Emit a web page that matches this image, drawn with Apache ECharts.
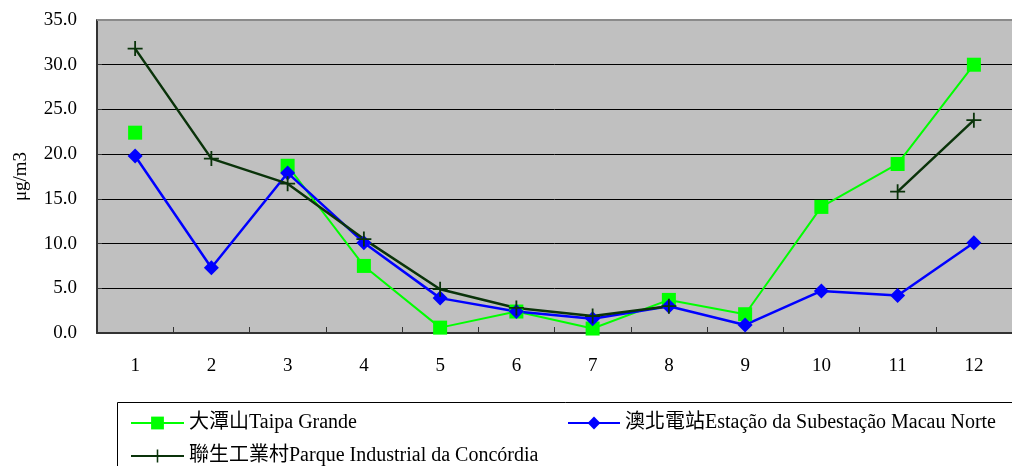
<!DOCTYPE html>
<html><head><meta charset="utf-8">
<script src="https://cdn.jsdelivr.net/npm/echarts@6/dist/echarts.min.js"></script>
<style>html,body{margin:0;padding:0;background:#fff}#c{width:1012px;height:466px}</style>
</head><body><div id="c"></div>
<script>
const categories = ['1','2','3','4','5','6','7','8','9','10','11','12'];
const taipa = [22.4, null, 18.7, 7.5, 0.6, 2.4, 0.5, 3.7, 2.1, 14.1, 18.9, 30.0];
const macauNorte = [19.8, 7.3, 17.9, 10.1, 3.9, 2.4, 1.6, 3.0, 0.9, 4.7, 4.2, 10.1];
const concordia = [31.8, 19.5, 16.7, 10.5, 4.9, 2.8, 1.9, 3.0, null, null, 15.8, 23.8];
const names = ['大潭山Taipa Grande', '澳北電站Estação da Subestação Macau Norte', '聯生工業村Parque Industrial da Concórdia'];

const serif = "'Liberation Serif', 'Noto Sans CJK TC', serif";
const plus = 'path://M-0.12,-1 H0.12 V-0.12 H1 V0.12 H0.12 V1 H-0.12 V0.12 H-1 V-0.12 H-0.12 Z';
const legText = {fontFamily: serif, fontSize: 20, color: '#000'};
const chart = echarts.init(document.getElementById('c'));
chart.setOption({
  animation: false,
  grid: {left: 97, top: 20, right: 0, height: 313, show: true, backgroundColor: '#c0c0c0', borderWidth: 0},
  legend: [
    {data: [names[0]], left: 125, top: 408, itemGap: 6, itemWidth: 53, itemHeight: 16, textStyle: legText},
    {data: [names[1]], left: 562, top: 408, itemGap: 6, itemWidth: 52, itemHeight: 16, textStyle: legText},
    {data: [names[2]], left: 125, top: 441, itemGap: 6, itemWidth: 53, itemHeight: 16, textStyle: legText}
  ],
  graphic: [
    {type: 'rect', shape: {x: 117.5, y: 402.5, width: 920, height: 80}, style: {fill: 'none', stroke: '#000', lineWidth: 1}},
    {type: 'line', shape: {x1: 97, y1: 20, x2: 1012, y2: 20}, style: {stroke: '#8a8a8a', lineWidth: 2}, z: 10}
  ],
  xAxis: {type: 'category', data: categories, boundaryGap: true,
    axisLine: {lineStyle: {color: '#333', width: 2}},
    axisTick: {show: true, length: 6, inside: true, lineStyle: {color: '#333'}},
    axisLabel: {fontFamily: serif, fontSize: 19, color: '#000', margin: 24}},
  yAxis: {type: 'value', min: 0, max: 35, interval: 5,
    name: 'μg/m3', nameLocation: 'middle', nameGap: 66, nameRotate: 90,
    nameTextStyle: {fontFamily: serif, fontSize: 19, color: '#000'},
    axisLine: {show: true, lineStyle: {color: '#333', width: 2}},
    axisTick: {show: true, length: 5, inside: true, lineStyle: {color: '#333'}},
    splitLine: {lineStyle: {color: '#000', width: 1}},
    axisLabel: {fontFamily: serif, fontSize: 19, color: '#000', formatter: v => v.toFixed(1), margin: 20}},
  series: [
    {name: names[0], type: 'line', data: taipa, symbol: 'rect', symbolSize: 14, connectNulls: false,
     itemStyle: {color: '#00ff00'}, lineStyle: {color: '#00ff00', width: 2}},
    {name: names[1], type: 'line', data: macauNorte, symbol: 'diamond', symbolSize: 15,
     itemStyle: {color: '#0000ff'}, lineStyle: {color: '#0000ff', width: 2.5}},
    {name: names[2], type: 'line', data: concordia, symbol: plus, symbolSize: 15, connectNulls: false,
     itemStyle: {color: '#0a330a'}, lineStyle: {color: '#0a330a', width: 2.5}}
  ]
});
</script></body></html>
